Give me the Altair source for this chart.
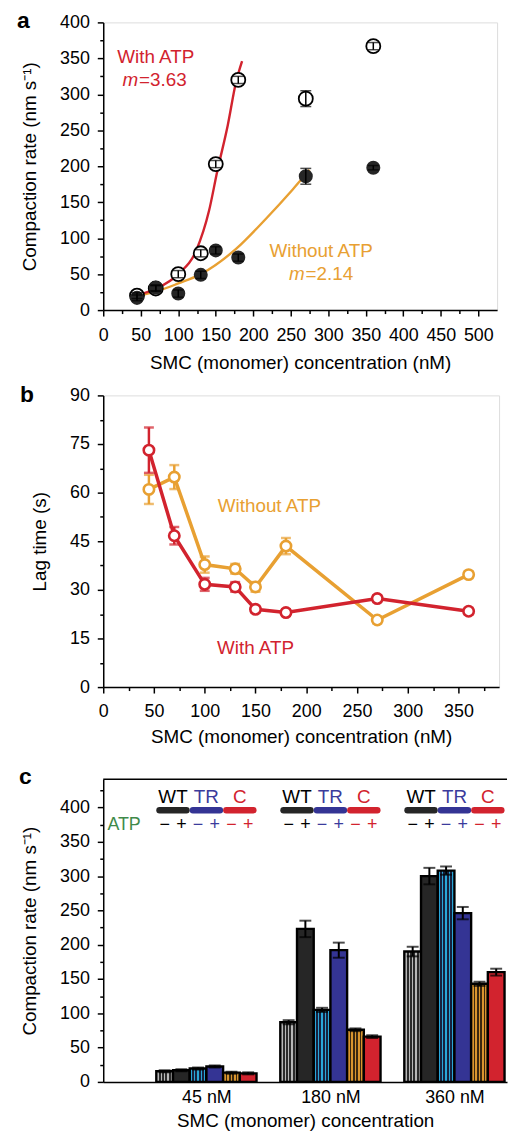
import altair as alt
import pandas as pd

FONT = "Liberation Sans"
RED = "#d2232e"
ORANGE = "#e8a032"
BLUE = "#343494"
DARK = "#262626"
GREEN = "#3f8a4a"

# ---------------- Panel a data ----------------
a_conc = [45, 70, 100, 130, 150, 180, 270, 360]
a_with = [20, 30, 50, 79, 203, 320, 294, 367]
a_with_err = [4, 4, 5, 5, 5, 5, 11, 5]
a_without = [17, 31, 23, 49, 83, 73, 186, 198]
a_without_err = [4, 4, 5, 5, 5, 5, 11, 3]
fit_with_x = [46, 71, 100, 124, 141, 152, 166, 177, 185]
fit_with_y = [21, 30, 50, 83, 138, 193, 257, 317, 346]
fit_without_x = [46, 71, 100, 130, 177, 216, 252, 275]
fit_without_y = [20, 26, 37, 50, 85, 126, 167, 195]

# ---------------- Panel b data ----------------
b_conc = [45, 70, 100, 130, 150, 180, 270, 360]
b_with = [73.1, 46.7, 31.7, 30.9, 24.0, 23.0, 27.3, 23.4]
b_with_err = [7, 2.7, 2, 1.5, 1, 1, 1, 1]
b_without = [61.0, 64.8, 37.8, 36.5, 30.9, 43.5, 20.7, 34.7]
b_without_err = [4.5, 3.7, 2.5, 1.5, 1.5, 2.5, 1, 1]

# ---------------- Panel c data ----------------
c_groups = ["45 nM", "180 nM", "360 nM"]
c_conditions = ["WT-", "WT+", "TR-", "TR+", "C-", "C+"]
c_families = ["WT", "TR", "C"]
c_signs = ["\u2212", "+", "\u2212", "+", "\u2212", "+"]
c_45 = [15.5, 17, 19.5, 22.5, 13.5, 12.5]
c_180 = [87, 223, 105, 192, 76, 66]
c_360 = [190, 300, 308, 246, 143, 160]
c_45_err = [1.5, 1.5, 1.5, 1.5, 1.5, 1.5]
c_180_err = [3, 12, 3, 11, 2, 2]
c_360_err = [7, 12, 6, 9, 3, 5]

fam_colors = [DARK, BLUE, RED]
fam_text_colors = ["black", "#3b3b9c", RED]


def ticksize(major):
    return {"condition": {"test": f"datum.value % {major} === 0", "value": 6}, "value": 3.5}


def lblexpr(major):
    return f"datum.value % {major} === 0 ? datum.label : ''"


AX = dict(domainColor="black", domainWidth=1.5, tickColor="black", tickWidth=1.5,
          labelFont=FONT, labelFontSize=18, labelColor="black", titleFont=FONT,
          titleFontSize=19, titleFontWeight="normal", titleColor="black", grid=False,
          labelOverlap=False, labelFlush=False)


def letter(ch, dx, dy):
    return alt.Chart(pd.DataFrame({"t": [ch]})).mark_text(
        font=FONT, fontSize=23, fontWeight="bold", align="left", baseline="alphabetic",
        color="black").encode(text="t:N", x=alt.value(dx), y=alt.value(dy))


# ---------------- Panel a ----------------
xa_axis = alt.Axis(values=list(range(0, 525, 25)), labelExpr=lblexpr(50), tickSize=ticksize(50),
                   title="SMC (monomer) concentration (nM)", labelPadding=11, titlePadding=9, **AX)
ya_axis = alt.Axis(values=list(range(0, 425, 25)), labelExpr=lblexpr(50), tickSize=ticksize(50),
                   title="Compaction rate (nm s\u207b\u00b9)", labelPadding=8, titlePadding=20, **AX)
xa_scale = alt.Scale(domain=[0, 525], nice=False, zero=False)
ya_scale = alt.Scale(domain=[0, 400], nice=False)


def XA(f="x"):
    return alt.X(f"{f}:Q", scale=xa_scale, axis=xa_axis)


def YA(f="y"):
    return alt.Y(f"{f}:Q", scale=ya_scale, axis=ya_axis)


pts_with = pd.DataFrame({"x": a_conc, "y": a_with,
                         "lo": [v - e for v, e in zip(a_with, a_with_err)],
                         "hi": [v + e for v, e in zip(a_with, a_with_err)]})
pts_without = pd.DataFrame({"x": a_conc, "y": a_without,
                            "lo": [v - e for v, e in zip(a_without, a_without_err)],
                            "hi": [v + e for v, e in zip(a_without, a_without_err)]})
fit_w = pd.DataFrame({"x": fit_with_x, "y": fit_with_y})
fit_wo = pd.DataFrame({"x": fit_without_x, "y": fit_without_y})

a_layers = [
    alt.Chart(fit_wo).mark_line(interpolate="monotone", strokeWidth=2.4, color=ORANGE).encode(x=XA(), y=YA()),
    alt.Chart(fit_w).mark_line(interpolate="monotone", strokeWidth=2.4, color=RED).encode(x=XA(), y=YA()),
    alt.Chart(pts_with).mark_point(shape="circle", filled=True, fill="white", stroke="black",
                                   strokeWidth=1.8, size=200, opacity=1).encode(x=XA(), y=YA()),
    alt.Chart(pts_without).mark_circle(color=DARK, size=200, opacity=1).encode(x=XA(), y=YA()),
    alt.Chart(pts_with).mark_errorbar(ticks=True, size=11, thickness=1.5, color="black").encode(
        x=XA(), y=YA("lo"), y2="hi"),
    alt.Chart(pts_without).mark_errorbar(ticks=True, size=11, thickness=1.5, color="black").encode(
        x=XA(), y=YA("lo"), y2="hi"),
]

ann_a = pd.DataFrame({
    "x": [70, 290.4], "y": [344, 73.3], "t": ["With ATP", "Without ATP"], "c": [RED, ORANGE]})
m_a = pd.DataFrame({"x": [46.5, 268.4], "y": [311, 42], "m": ["m", "m"], "v": ["=3.63", "=2.14"],
                    "c": [RED, ORANGE]})
a_layers += [
    alt.Chart(ann_a).mark_text(font=FONT, fontSize=19, align="center", baseline="alphabetic").encode(
        x=XA(), y=YA(), text="t:N", color=alt.Color("c:N", scale=None)),
    alt.Chart(m_a).mark_text(font=FONT, fontSize=19, fontStyle="italic", align="right",
                             baseline="alphabetic").encode(
        x=XA(), y=YA(), text="m:N", color=alt.Color("c:N", scale=None)),
    alt.Chart(m_a).mark_text(font=FONT, fontSize=19, align="left", baseline="alphabetic", dx=1).encode(
        x=XA(), y=YA(), text="v:N", color=alt.Color("c:N", scale=None)),
    letter("a", -87, 6),
]
panel_a = alt.layer(*a_layers).properties(width=397, height=290)

# ---------------- Panel b ----------------
xb_axis = alt.Axis(values=list(range(0, 400, 25)), labelExpr=lblexpr(50), tickSize=ticksize(50),
                   title="SMC (monomer) concentration (nM)", labelPadding=10, titlePadding=7, **AX)
yb_axis = alt.Axis(values=[i * 7.5 for i in range(13)], labelExpr=lblexpr(15), tickSize=ticksize(15),
                   title="Lag time (s)", labelPadding=8, titlePadding=20, **AX)
xb_scale = alt.Scale(domain=[0, 390], nice=False, zero=False)
yb_scale = alt.Scale(domain=[0, 90], nice=False)


def XB(f="x"):
    return alt.X(f"{f}:Q", scale=xb_scale, axis=xb_axis)


def YB(f="y"):
    return alt.Y(f"{f}:Q", scale=yb_scale, axis=yb_axis)


def bseries(vals, errs):
    return pd.DataFrame({"x": b_conc, "y": vals,
                         "lo": [v - e for v, e in zip(vals, errs)],
                         "hi": [v + e for v, e in zip(vals, errs)]})


b_layers = []
for vals, errs, col in [(b_without, b_without_err, ORANGE), (b_with, b_with_err, RED)]:
    d = bseries(vals, errs)
    b_layers += [
        alt.Chart(d).mark_line(strokeWidth=3.5, color=col).encode(x=XB(), y=YB()),
        alt.Chart(d).mark_errorbar(ticks=True, size=10, thickness=2.5, color=col).encode(
            x=XB(), y=YB("lo"), y2="hi"),
        alt.Chart(d).mark_point(shape="circle", filled=True, fill="white", stroke=col, strokeWidth=2.6,
                                size=110, opacity=1).encode(x=XB(), y=YB()),
    ]
ann_b = pd.DataFrame({"x": [163.7, 150], "y": [54.1, 10.2], "t": ["Without ATP", "With ATP"],
                      "c": [ORANGE, RED]})
b_layers += [
    alt.Chart(ann_b).mark_text(font=FONT, fontSize=19, align="center", baseline="alphabetic").encode(
        x=XB(), y=YB(), text="t:N", color=alt.Color("c:N", scale=None)),
    letter("b", -84, 7),
]
panel_b = alt.layer(*b_layers).properties(width=399, height=294)

# ---------------- Panel c ----------------
C_W = 407
C_H = 305
C_YMAX = 441
C_X0 = 0.168
C_X1 = C_X0 + C_W / 125.0
BW = 0.1347
GW = BW * 6

xc_axis = alt.Axis(values=[1, 2, 3],
                   labelExpr="[" + ",".join(["''"] + [f"'{g}'" for g in c_groups]) + "][datum.value]",
                   ticks=False, title="SMC (monomer) concentration", labelPadding=7, titlePadding=5, **AX)
yc_axis = alt.Axis(values=list(range(0, 450, 25)), labelExpr=lblexpr(50), tickSize=ticksize(50),
                   title="Compaction rate (nm s\u207b\u00b9)", labelPadding=8, titlePadding=20, **AX)
xc_scale = alt.Scale(domain=[C_X0, C_X1], nice=False, zero=False)
yc_scale = alt.Scale(domain=[0, C_YMAX], nice=False)


def XC(f="x"):
    return alt.X(f"{f}:Q", scale=xc_scale, axis=xc_axis)


def YC(f="y"):
    return alt.Y(f"{f}:Q", scale=yc_scale, axis=yc_axis)


rows = []
for gi, (vals, errs) in enumerate([(c_45, c_45_err), (c_180, c_180_err), (c_360, c_360_err)]):
    left = gi + 1 - GW / 2
    for i, cond in enumerate(c_conditions):
        rows.append({"grp": c_groups[gi], "cond": cond, "x": left + i * BW, "x2": left + (i + 1) * BW,
                     "xc": left + (i + 0.5) * BW, "y": vals[i], "y0": 0,
                     "lo": vals[i] - errs[i], "hi": vals[i] + errs[i]})
dc = pd.DataFrame(rows)


def stripes(base, line, n=5, w=0.09):
    stops = [alt.GradientStop(offset=0, color=base)]
    for k in range(n):
        c = (k + 0.5) / n
        stops += [alt.GradientStop(offset=c - w / 2, color=base),
                  alt.GradientStop(offset=c - w / 2, color=line),
                  alt.GradientStop(offset=c + w / 2, color=line),
                  alt.GradientStop(offset=c + w / 2, color=base)]
    stops.append(alt.GradientStop(offset=1, color=base))
    return alt.LinearGradient(gradient="linear", stops=stops, x1=0, x2=1, y1=0, y2=0)


fills = {
    "WT-": stripes("#2b2b2b", "#b8b8b8"),
    "WT+": DARK,
    "TR-": stripes("#16213f", "#2aa6d8"),
    "TR+": BLUE,
    "C-": stripes("#3a2810", "#d9952f"),
    "C+": RED,
}

c_layers = []
for cond in c_conditions:
    c_layers.append(
        alt.Chart(dc[dc.cond == cond]).mark_rect(fill=fills[cond], stroke="black", strokeWidth=2.4).encode(
            x=XC(), x2="x2:Q", y=YC(), y2="y0:Q"))
c_layers.append(
    alt.Chart(dc).mark_errorbar(ticks=True, size=12, thickness=2, color="black").encode(
        x=XC("xc"), y=YC("lo"), y2="hi"))

# header (condition key above each group)
lab_rows, bar_rows, sign_rows = [], [], []
for gi, g in enumerate(c_groups):
    left = gi + 1 - GW / 2
    for j, fam in enumerate(c_families):
        lab_rows.append({"x": left + (2 * j + 1) * BW, "y": 407, "t": fam, "c": fam_text_colors[j]})
        bar_rows.append({"x": left + 2 * j * BW + 0.026, "x2": left + (2 * j + 2) * BW - 0.026,
                         "y": 396, "c": fam_colors[j]})
    for i, s in enumerate(c_signs):
        sign_rows.append({"x": left + (i + 0.5) * BW, "y": 375, "t": s, "c": fam_text_colors[i // 2]})
c_layers += [
    alt.Chart(pd.DataFrame(bar_rows)).mark_rule(strokeWidth=6.5, strokeCap="round").encode(
        x=XC(), x2="x2:Q", y=YC(), color=alt.Color("c:N", scale=None)),
    alt.Chart(pd.DataFrame(lab_rows)).mark_text(font=FONT, fontSize=19, align="center",
                                                baseline="alphabetic").encode(
        x=XC(), y=YC(), text="t:N", color=alt.Color("c:N", scale=None)),
    alt.Chart(pd.DataFrame(sign_rows)).mark_text(font=FONT, fontSize=18, align="center",
                                                 baseline="middle").encode(
        x=XC(), y=YC(), text="t:N", color=alt.Color("c:N", scale=None)),
    alt.Chart(pd.DataFrame({"x": [0.336], "y": [367.7], "t": ["ATP"]})).mark_text(
        font=FONT, fontSize=18, align="center", baseline="alphabetic", color=GREEN).encode(
        x=XC(), y=YC(), text="t:N"),
    alt.Chart(pd.DataFrame({"t": [0]})).mark_rule(color="black", strokeWidth=1.5).encode(
        x=alt.value(0), x2=alt.value(C_W), y=alt.value(0)),
    letter("c", -85, 5),
]
panel_c = alt.layer(*c_layers).properties(width=C_W, height=C_H, view=alt.ViewBackground(stroke=None))

chart = alt.vconcat(alt.vconcat(panel_a, panel_b, spacing=10), panel_c, spacing=19).properties(
    padding={"left": 8, "top": -3, "right": 0, "bottom": 0}
).configure_view(stroke="black", strokeWidth=1.5).configure(font=FONT, background="white")

chart.save("out.html", embed_options={"renderer": "svg", "actions": False})
